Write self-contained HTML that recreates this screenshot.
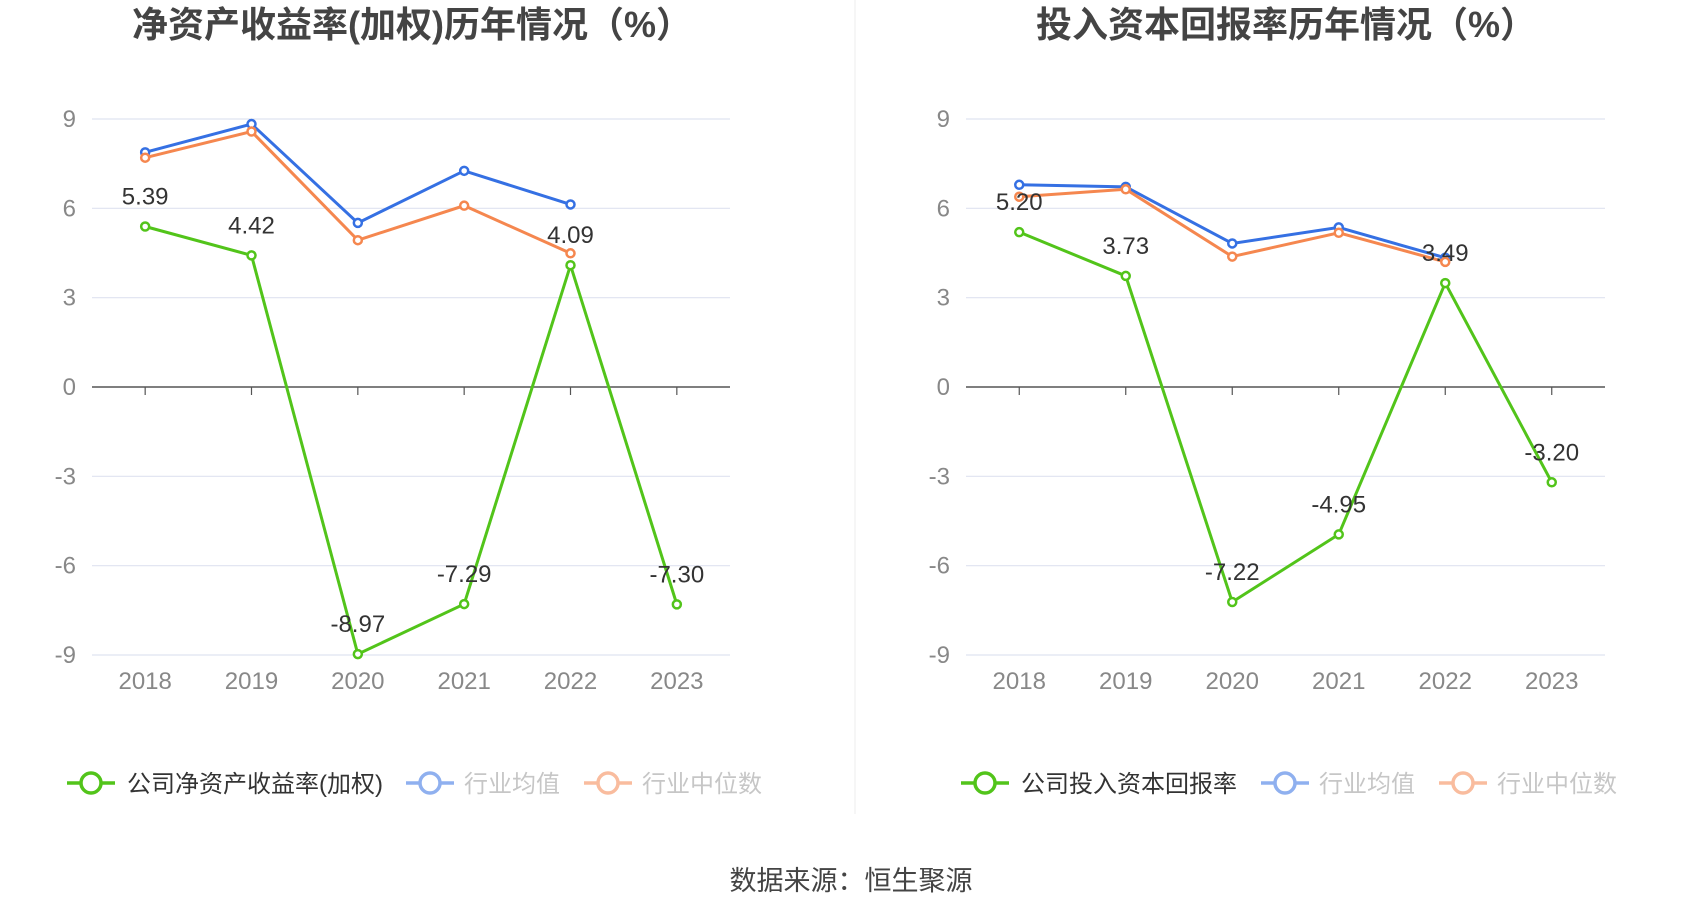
<!DOCTYPE html>
<html><head><meta charset="utf-8"><style>
html,body{margin:0;padding:0;background:#fff;}
body{width:1700px;height:918px;overflow:hidden;font-family:"Liberation Sans","Noto Sans CJK SC",sans-serif;}
</style></head><body>
<svg id="svg" width="1700" height="918" xmlns="http://www.w3.org/2000/svg" font-family="'Liberation Sans','Noto Sans CJK SC',sans-serif">
<line x1="855" y1="0" x2="855" y2="814" stroke="#eeeeee" stroke-width="1"/>
<text x="851" y="890" text-anchor="middle" font-size="27" fill="#444">数据来源：恒生聚源</text>
</svg>
<script>
const years=["2018","2019","2020","2021","2022","2023"];
const yTicks=[9,6,3,0,-3,-6,-9];
const roeCompany=[5.39,4.42,-8.97,-7.29,4.09,-7.30];
const roeAvg=[7.88,8.83,5.51,7.26,6.13];
const roeMedian=[7.70,8.58,4.93,6.09,4.49];
const roicCompany=[5.20,3.73,-7.22,-4.95,3.49,-3.20];
const roicAvg=[6.79,6.72,4.82,5.36,4.34];
const roicMedian=[6.39,6.64,4.38,5.18,4.20];

const NS="http://www.w3.org/2000/svg";
const svg=document.getElementById('svg');
function mk(tag,attrs,parent){const e=document.createElementNS(NS,tag);for(const k in attrs)e.setAttribute(k,attrs[k]);(parent||svg).appendChild(e);return e;}
const GREEN="#52c41a",BLUE="#3570e3",ORANGE="#f5874f";

function panel(p){
  const g=mk('g',{});
  
  
  const x0=p.gx0,x1=p.gx1,yTop=119,yBot=655;
  const yScale=v=>yTop+(9-v)*(yBot-yTop)/18;
  const step=(x1-x0)/years.length;
  const xScale=i=>x0+step*(i+0.5);
  const t=mk('text',{x:p.titleX,y:37,'text-anchor':'middle','font-size':36,'font-weight':'bold',fill:'#444'},g);
  t.textContent=p.title;
  
  
  yTicks.forEach(v=>{
    const y=yScale(v);
    const l=mk('line',{x1:x0,x2:x1,y1:y,y2:y,stroke:v===0?'#555':'#dfe3f0','stroke-width':v===0?1.5:1.2},g);
    
    
    const tx=mk('text',{x:x0-16,y:y+8,'text-anchor':'end','font-size':24,fill:'#888'},g);
    tx.textContent=v;
    
    
  });
  years.forEach((yr,i)=>{
    const x=xScale(i);
    const tk=mk('line',{x1:x,x2:x,y1:yScale(0),y2:yScale(0)+8,stroke:'#555','stroke-width':1.2},g);
    
    
    const tx=mk('text',{x:x,y:689,'text-anchor':'middle','font-size':24,fill:'#888'},g);
    tx.textContent=yr;
    
    
  });
  function series(vals,color,nm,labels){
    const pts=vals.map((v,i)=>xScale(i)+','+yScale(v)).join(' ');
    const pl=mk('polyline',{points:pts,fill:'none',stroke:color,'stroke-width':3},g);
    
    
    vals.forEach((v,i)=>{
      const c=mk('circle',{cx:xScale(i),cy:yScale(v),r:4,fill:'#fff',stroke:color,'stroke-width':2.5},g);
      
      
      if(labels){
        const tx=mk('text',{x:xScale(i),y:yScale(v)-22,'text-anchor':'middle','font-size':24,fill:'#333'},g);
        tx.textContent=v.toFixed(2);
        
        
      }
    });
  }
  series(p.avg,BLUE,'industry-average',false);
  series(p.median,ORANGE,'industry-median',false);
  series(p.company,GREEN,'company',true);
  p.legend.forEach(L=>{
    const lg=mk('g',{opacity:L.op},g);
    
    
    mk('line',{x1:L.x,x2:L.x+48,y1:783,y2:783,stroke:L.c,'stroke-width':3.5},lg);
    mk('circle',{cx:L.x+24,cy:783,r:10,fill:'#fff',stroke:L.c,'stroke-width':3.5},lg);
    const tx=mk('text',{x:L.tx,y:792,'font-size':24,fill:L.op<1?'#999':'#333'},lg);
    tx.textContent=L.t;
  });
}
panel({name:'roe-chart',title:'净资产收益率(加权)历年情况（%）',titleX:412,gx0:92,gx1:730,
  company:roeCompany,avg:roeAvg,median:roeMedian,
  legend:[{x:67,tx:127,c:GREEN,op:1,t:'公司净资产收益率(加权)'},{x:406,tx:464,c:BLUE,op:0.55,t:'行业均值'},{x:584,tx:642,c:ORANGE,op:0.55,t:'行业中位数'}]});
panel({name:'roic-chart',title:'投入资本回报率历年情况（%）',titleX:1286,gx0:966,gx1:1605,
  company:roicCompany,avg:roicAvg,median:roicMedian,
  legend:[{x:961,tx:1021,c:GREEN,op:1,t:'公司投入资本回报率'},{x:1261,tx:1319,c:BLUE,op:0.55,t:'行业均值'},{x:1439,tx:1497,c:ORANGE,op:0.55,t:'行业中位数'}]});
</script>
</body></html>
